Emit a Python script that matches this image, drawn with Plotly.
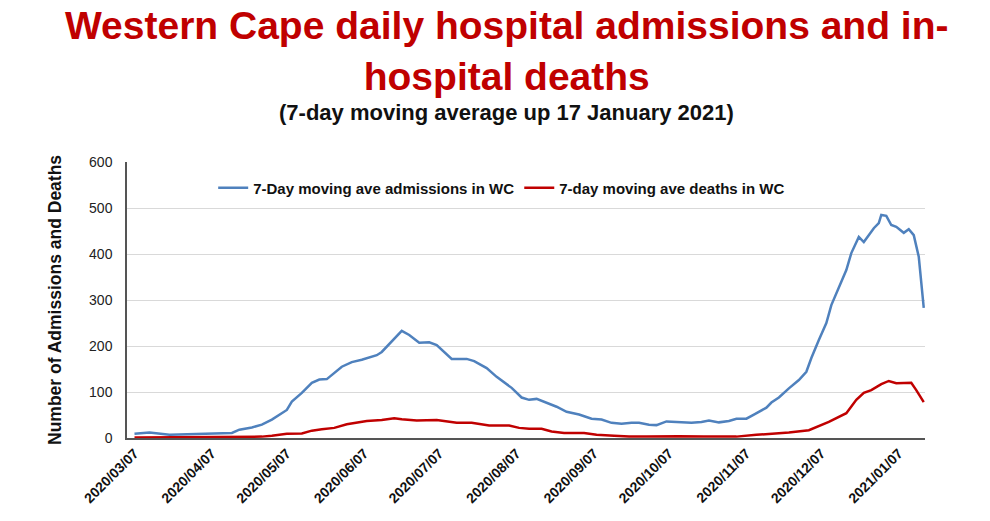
import plotly.graph_objects as go

adm_dates = ["2020-03-07","2020-03-13","2020-03-21","2020-03-28","2020-04-05","2020-04-10","2020-04-15",
             "2020-04-18","2020-04-23","2020-04-27","2020-05-01","2020-05-07","2020-05-09","2020-05-13",
             "2020-05-17","2020-05-20","2020-05-23","2020-05-29","2020-06-02","2020-06-06","2020-06-12",
             "2020-06-14","2020-06-18","2020-06-22","2020-06-25","2020-06-29","2020-07-03","2020-07-06",
             "2020-07-12","2020-07-18","2020-07-21","2020-07-26","2020-07-30","2020-08-05","2020-08-09",
             "2020-08-12","2020-08-15","2020-08-19","2020-08-23","2020-08-27","2020-09-01","2020-09-06",
             "2020-09-10","2020-09-14","2020-09-18","2020-09-22","2020-09-25","2020-09-29","2020-10-02",
             "2020-10-06","2020-10-11","2020-10-16","2020-10-20","2020-10-23","2020-10-27","2020-10-31",
             "2020-11-03","2020-11-07","2020-11-10","2020-11-15","2020-11-17","2020-11-20","2020-11-24",
             "2020-11-28","2020-12-01","2020-12-03","2020-12-06","2020-12-09","2020-12-11","2020-12-14",
             "2020-12-17","2020-12-19","2020-12-22","2020-12-24","2020-12-26","2020-12-28","2020-12-30",
             "2020-12-31","2021-01-02","2021-01-04","2021-01-06","2021-01-09","2021-01-11","2021-01-13",
             "2021-01-15","2021-01-16","2021-01-17"]
adm_values = [9,12,7,8,8,10,11,
              18,23,29,40,61,79,98,
              120,127,128,155,165,170,180,
              187,209,233,224,207,208,202,
              172,172,167,152,133,109,88,
              83,85,76,68,57,51,42,
              40,33,31,33,33,29,28,
              36,34,33,35,38,34,37,
              42,42,51,66,77,88,108,
              126,144,174,213,250,289,326,
              365,402,437,426,441,456,467,
              485,483,463,459,446,454,441,
              394,343,283]

death_dates = ["2020-03-07","2020-04-20","2020-04-27","2020-05-01","2020-05-07","2020-05-13","2020-05-17",
               "2020-05-21","2020-05-26","2020-05-31","2020-06-08","2020-06-14","2020-06-19","2020-06-22",
               "2020-06-28","2020-07-06","2020-07-14","2020-07-20","2020-07-27","2020-08-04","2020-08-08",
               "2020-08-12","2020-08-17","2020-08-21","2020-08-26","2020-09-03","2020-09-08","2020-09-15",
               "2020-09-21","2020-09-28","2020-10-11","2020-10-21","2020-11-03","2020-11-11","2020-11-17",
               "2020-11-24","2020-12-02","2020-12-10","2020-12-17","2020-12-21","2020-12-24","2020-12-27",
               "2020-12-31","2021-01-03","2021-01-06","2021-01-10","2021-01-12","2021-01-14","2021-01-17"]
death_values = [1,2,3,5,9,10,16,
                19,22,30,37,39,43,41,
                38,39,33,33,27,27,22,
                20,20,14,11,11,7,5,
                3,3,4,3,3,7,9,
                12,17,35,54,83,98,104,
                117,124,119,119,120,104,78]

tick_vals = ["2020-03-07","2020-04-07","2020-05-07","2020-06-07","2020-07-07","2020-08-07",
             "2020-09-07","2020-10-07","2020-11-07","2020-12-07","2021-01-07"]
tick_text = ["<b>" + t.replace("-", "/") + "</b>" for t in tick_vals]

BLUE = "#4F81BD"
RED = "#C00000"
FONT = "Liberation Sans, Arial, sans-serif"

fig = go.Figure()
fig.add_trace(go.Scatter(x=adm_dates, y=adm_values, mode="lines",
                         name="<b>7-Day moving ave admissions in WC</b>",
                         line=dict(color=BLUE, width=2.5)))
fig.add_trace(go.Scatter(x=death_dates, y=death_values, mode="lines",
                         name="<b>7-day moving ave deaths in WC</b>",
                         line=dict(color=RED, width=2.5)))

fig.update_layout(
    width=990, height=521,
    margin=dict(l=127, r=65, t=162, b=83),
    paper_bgcolor="white", plot_bgcolor="white",
    font=dict(family=FONT, color="#222222"),
    showlegend=True,
    legend=dict(orientation="h", x=0.108, y=0.906, xanchor="left", yanchor="middle",
                font=dict(size=15, color="#111111", family=FONT), bgcolor="rgba(0,0,0,0)",
                itemwidth=30),
    xaxis=dict(type="date", range=["2020-03-04", "2021-01-17 12:00"],
               tickvals=tick_vals, ticktext=tick_text, tickangle=-45,
               tickfont=dict(size=14, color="#111111", family=FONT),
               showgrid=False, showline=True, linecolor="#555555", linewidth=1.5,
               ticks="", zeroline=False),
    yaxis=dict(range=[0, 600], dtick=100, tick0=0,
               tickfont=dict(size=14, color="#222222"),
               showgrid=True, gridcolor="#D9D9D9", gridwidth=1,
               showline=True, linecolor="#555555", linewidth=1.5,
               ticks="", zeroline=False, ticklabelstandoff=10),
    annotations=[
        dict(text="<b>Western Cape daily hospital admissions and in-<br>hospital deaths</b>",
             xref="paper", yref="paper", x=0.476, y=(438 - 2) / 276, xanchor="center", yanchor="top",
             showarrow=False, font=dict(size=39, color=RED, family=FONT)),
        dict(text="<b>(7-day moving average up 17 January 2021)</b>",
             xref="paper", yref="paper", x=0.476, y=(438 - 112) / 276, xanchor="center", yanchor="middle",
             showarrow=False, font=dict(size=22, color="#111111", family=FONT)),
        dict(text="<b>Number of Admissions and Deaths</b>",
             xref="paper", yref="paper", x=(55 - 127) / 798, y=0.5, xanchor="center", yanchor="middle",
             textangle=-90, showarrow=False, font=dict(size=17.5, color="#111111", family=FONT)),
    ],
)

fig.write_html("out.html")
